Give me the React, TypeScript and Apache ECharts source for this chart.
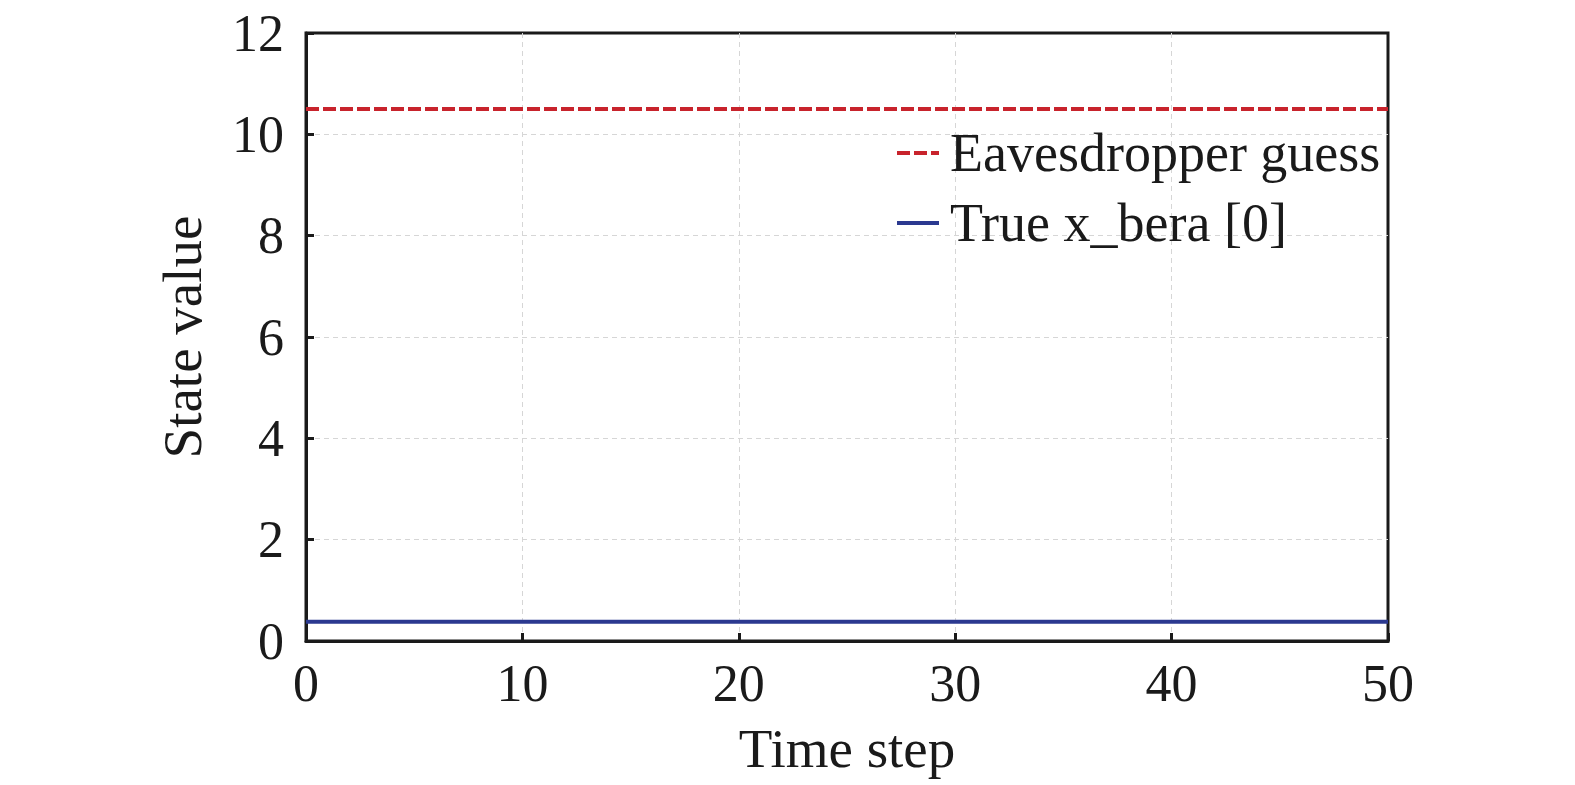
import React, { useEffect, useRef } from "react";
import * as echarts from "echarts";

const timeSteps: number[] = [
  0, 1, 2, 3, 4, 5, 6, 7, 8, 9, 10, 11, 12, 13, 14, 15, 16, 17, 18, 19, 20, 21, 22, 23, 24, 25,
  26, 27, 28, 29, 30, 31, 32, 33, 34, 35, 36, 37, 38, 39, 40, 41, 42, 43, 44, 45, 46, 47, 48, 49, 50,
];
const eavesdropperGuess: number[] = timeSteps.map(() => 10.5);
const trueXBera: number[] = timeSteps.map(() => 0.38);
const xTicks = [0, 10, 20, 30, 40, 50];
const yTicks = [0, 2, 4, 6, 8, 10, 12];

const FONT = "'Liberation Serif', 'Times New Roman', serif";

export default function App() {
  const ref = useRef<HTMLDivElement>(null);
  useEffect(() => {
    if (!ref.current) return;
    const chart = echarts.init(ref.current, undefined, { renderer: "svg" });
    const split = {
      show: true,
      showMinLine: false,
      showMaxLine: false,
      lineStyle: { color: "#d6d6d6", type: [5, 4], width: 1 },
    };
    chart.setOption({
      animation: false,
      backgroundColor: "#ffffff",
      textStyle: { fontFamily: FONT },
      grid: {
        left: 306,
        right: 187,
        top: 33,
        bottom: 144,
        show: true,
        borderColor: "#1a1a1a",
        borderWidth: 3,
        containLabel: false,
      },
      legend: {
        orient: "vertical",
        left: 890,
        top: 121,
        itemGap: 16,
        itemWidth: 42,
        itemHeight: 14,
        itemStyle: { opacity: 0 },
        lineStyle: { width: 4 },
        textStyle: { fontFamily: FONT, fontSize: 54, color: "#1a1a1a", padding: [0, 0, 0, 6] },
        data: ["Eavesdropper guess", "True x_bera [0]"],
      },
      xAxis: {
        type: "value",
        min: xTicks[0],
        max: xTicks[xTicks.length - 1],
        interval: 10,
        name: "Time step",
        nameLocation: "middle",
        nameGap: 80,
        nameTextStyle: { fontFamily: FONT, fontSize: 55, color: "#1a1a1a" },
        axisLine: { show: true, lineStyle: { color: "#1a1a1a", width: 3 } },
        axisTick: { show: true, inside: true, length: 8, lineStyle: { color: "#1a1a1a", width: 3 } },
        axisLabel: { fontFamily: FONT, fontSize: 52, color: "#1a1a1a", margin: 16 },
        splitLine: split,
      },
      yAxis: {
        type: "value",
        min: yTicks[0],
        max: yTicks[yTicks.length - 1],
        interval: 2,
        name: "State value",
        nameLocation: "middle",
        nameGap: 96,
        nameTextStyle: { fontFamily: FONT, fontSize: 55, color: "#1a1a1a" },
        axisLine: { show: true, lineStyle: { color: "#1a1a1a", width: 3 } },
        axisTick: { show: true, inside: true, length: 8, lineStyle: { color: "#1a1a1a", width: 3 } },
        axisLabel: { fontFamily: FONT, fontSize: 52, color: "#1a1a1a", margin: 22 },
        splitLine: split,
      },
      series: [
        {
          name: "Eavesdropper guess",
          type: "line",
          data: timeSteps.map((t, i) => [t, eavesdropperGuess[i]]),
          showSymbol: false,
          symbol: "none",
          color: "#c8232c",
          lineStyle: { color: "#c8232c", width: 4, type: [13, 4] },
        },
        {
          name: "True x_bera [0]",
          type: "line",
          data: timeSteps.map((t, i) => [t, trueXBera[i]]),
          showSymbol: false,
          symbol: "none",
          color: "#2b3990",
          lineStyle: { color: "#2b3990", width: 4 },
        },
      ],
    });
    return () => chart.dispose();
  }, []);
  return (
    <div
      ref={ref}
      style={{ position: "fixed", left: 0, top: 0, width: 1575, height: 785, background: "#fff" }}
    />
  );
}
